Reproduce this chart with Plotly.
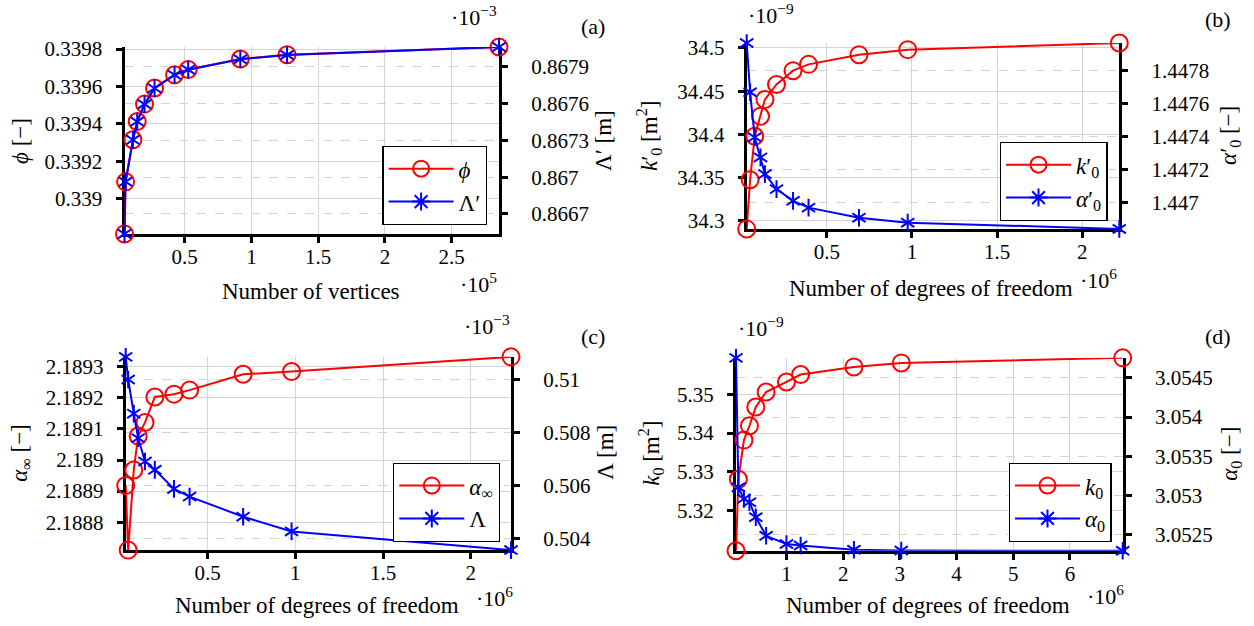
import plotly.graph_objects as go

W, H = 1254, 626
FONT = "Liberation Serif, Times New Roman, serif"
RED = "#ff0000"
BLUE = "#0000ff"

# ---------------- data (values as displayed on the axes) ----------------
# (a) number of vertices (x 10^5)
verts_a = [0.05, 0.058, 0.113, 0.145, 0.2, 0.275, 0.425, 0.527, 0.917, 1.267, 2.854]
phi_a = [0.338813, 0.339091, 0.339316, 0.339413, 0.339506, 0.339592,
         0.339663, 0.339691, 0.339747, 0.339770, 0.339811]
lamp_a = [0.866537, 0.866963, 0.867305, 0.867454, 0.867596, 0.867726,
          0.867835, 0.867878, 0.867963, 0.867998, 0.868063]  # x 10^-3 m

# (b) degrees of freedom (x 10^6)
dof_b = [0.03, 0.05, 0.077, 0.111, 0.137, 0.205, 0.302, 0.393, 0.689, 0.975, 2.217]
kp0_b = [34.2907, 34.3476, 34.3978, 34.421, 34.4404, 34.4578,
         34.4737, 34.481, 34.4922, 34.498, 34.5057]  # x 10^-9 m^2
ap0_b = [1.447966, 1.447668, 1.447395, 1.447273, 1.447172, 1.447081,
         1.44701, 1.446969, 1.446908, 1.446878, 1.44684]

# (c)
dof_c = [0.034, 0.048, 0.08, 0.105, 0.144, 0.2, 0.309, 0.398, 0.703, 0.979, 2.229]
ainf_c = [2.188918, 2.18871, 2.188968, 2.189077, 2.189121, 2.189203,
          2.189212, 2.189225, 2.189276, 2.189285, 2.189332]
lam_c = [0.510843, 0.509989, 0.508703, 0.507781, 0.5069, 0.506586,
         0.505867, 0.505577, 0.50482, 0.504265, 0.503561]  # x 10^-3 m

# (d)
dof_d = [0.11, 0.152, 0.25, 0.347, 0.459, 0.641, 1.0, 1.25, 2.19, 3.025, 6.93]
k0_d = [5.30966, 5.32811, 5.33819, 5.34189, 5.34672, 5.35059,
        5.35318, 5.35509, 5.35706, 5.35809, 5.35939]  # x 10^-9 m^2
a0_d = [3.054754, 3.053106, 3.052958, 3.052915, 3.052724, 3.052487,
        3.052382, 3.052364, 3.052310, 3.052300, 3.052296]

# tick values / labels
xt_a = [0.5, 1, 1.5, 2, 2.5]
xt_b = [0.5, 1, 1.5, 2]
xt_c = [0.5, 1, 1.5, 2]
xt_d = [1, 2, 3, 4, 5, 6]
yl_a = ["0.339", "0.3392", "0.3394", "0.3396", "0.3398"]
yr_a = ["0.8667", "0.867", "0.8673", "0.8676", "0.8679"]
yl_b = ["34.3", "34.35", "34.4", "34.45", "34.5"]
yr_b = ["1.447", "1.4472", "1.4474", "1.4476", "1.4478"]
yl_c = ["2.1888", "2.1889", "2.189", "2.1891", "2.1892", "2.1893"]
yr_c = ["0.504", "0.506", "0.508", "0.51"]
yl_d = ["5.32", "5.33", "5.34", "5.35"]
yr_d = ["3.0525", "3.053", "3.0535", "3.054", "3.0545"]


def px(x):
    return x / W


def py(y):
    ys = (y - 9.0) / 0.978
    return 1 - ys / H


fig = go.Figure()
layout = {}
annotations = []

axis_common = dict(
    showline=True, linecolor="black", linewidth=3,
    ticks="outside", ticklen=6, tickwidth=3, tickcolor="black",
    tickfont=dict(family=FONT, size=21, color="black"),
    zeroline=False, gridcolor="#d4d4d4", gridwidth=1.2,
    layer="below traces",
)


def fmt(v):
    return ("%g" % v)


def panel(i, x, yl, yr, box, xt, ylt, yrt, names, leg, ytitles):
    xid = "x" if i == 1 else f"x{i}"
    nl, nr = 2 * i - 1, 2 * i
    ylid = "y" if nl == 1 else f"y{nl}"
    yrid = f"y{nr}"
    x0, x1, y0, y1 = box
    xdom = [px(x0), px(x1)]
    ydom = [py(y1), py(y0)]
    layout["xaxis" if i == 1 else f"xaxis{i}"] = dict(
        axis_common, domain=xdom, anchor=ylid, range=[min(x), max(x)],
        tickvals=xt, ticktext=[fmt(v) for v in xt], showgrid=True,
        ticklabelstandoff=-4)
    layout["yaxis" if nl == 1 else f"yaxis{nl}"] = dict(
        axis_common, domain=ydom, anchor=xid, range=[min(yl), max(yl)],
        tickvals=[float(t) for t in ylt], ticktext=ylt, showgrid=True,
        ticklabelstandoff=9)
    layout[f"yaxis{nr}"] = dict(
        axis_common, domain=ydom, anchor=xid, overlaying=ylid, side="right",
        range=[min(yr), max(yr)], tickvals=[float(t) for t in yrt], ticktext=yrt,
        showgrid=True, griddash="dash", ticklabelstandoff=19)
    legid = "legend" if i == 1 else f"legend{i}"
    # red series with open circles
    fig.add_trace(go.Scatter(
        x=x, y=yl, xaxis=xid, yaxis=ylid, name=names[0], legend=legid,
        mode="lines+markers", cliponaxis=False,
        line=dict(color=RED, width=2),
        marker=dict(symbol="circle-open", size=17, color=RED,
                    line=dict(color=RED, width=2))))
    # blue series with six-armed asterisks (two overlaid three-armed marks)
    fig.add_trace(go.Scatter(
        x=x, y=yr, xaxis=xid, yaxis=yrid, showlegend=False,
        mode="lines+markers", cliponaxis=False,
        line=dict(color=BLUE, width=2),
        marker=dict(symbol="y-up-open", size=11, color=BLUE,
                    line=dict(color=BLUE, width=2))))
    fig.add_trace(go.Scatter(
        x=x, y=yr, xaxis=xid, yaxis=yrid, showlegend=False,
        mode="markers", cliponaxis=False,
        marker=dict(symbol="y-down-open", size=11, color=BLUE,
                    line=dict(color=BLUE, width=2))))
    # legend entry for the blue series
    fig.add_trace(go.Scatter(
        x=[None], y=[None], xaxis=xid, yaxis=yrid, name=names[1], legend=legid,
        mode="lines+markers",
        line=dict(color=BLUE, width=2),
        marker=dict(symbol="asterisk-open", size=15, color=BLUE,
                    line=dict(color=BLUE, width=2))))
    layout[legid] = dict(
        x=px(leg[0]), y=py(leg[1]), xanchor="right", yanchor="bottom",
        xref="paper", yref="paper",
        bgcolor="white", bordercolor="black", borderwidth=1.3,
        font=dict(family=FONT, size=23, color="black"),
        itemwidth=65, tracegroupgap=0)
    # axis titles
    for (tx, ty, txt, ang) in ytitles:
        annotations.append(dict(
            x=px(tx), y=py(ty), xref="paper", yref="paper", text=txt,
            textangle=ang, showarrow=False, xanchor="center", yanchor="middle",
            font=dict(family=FONT, size=23, color="black")))


panel(1, verts_a, phi_a, lamp_a, (124.5, 499, 46, 233), xt_a, yl_a, yr_a,
      ["<i>ϕ</i>", "Λ′"], (487.3, 224),
      [(21, 140, "<i>ϕ</i> [−]", -90), (604, 140, "Λ′ [m]", -90),
       (311, 291, "Number of vertices", 0)])
panel(2, dof_b, kp0_b, ap0_b, (746.7, 1119.3, 42, 228), xt_b, yl_b, yr_b,
      ["<i>k</i>′<sub>0</sub>", "<i>α</i>′<sub>0</sub>"], (1107.7, 220),
      [(649, 135, "<i>k</i>′<sub>0</sub> [m<sup>2</sup>]", -90),
       (1230, 135, "<i>α</i>′<sub>0</sub> [−]", -90),
       (931, 288, "Number of degrees of freedom", 0)])
panel(3, dof_c, ainf_c, lam_c, (125.7, 511, 356, 549.3), xt_c, yl_c, yr_c,
      ["<i>α</i><sub>∞</sub>", "Λ"], (500, 541),
      [(21, 452, "<i>α</i><sub>∞</sub> [−]", -90), (606, 452, "Λ [m]", -90),
       (317, 605, "Number of degrees of freedom", 0)])
panel(4, dof_d, k0_d, a0_d, (736, 1122.7, 357, 550), xt_d, yl_d, yr_d,
      ["<i>k</i><sub>0</sub>", "<i>α</i><sub>0</sub>"], (1111.7, 541),
      [(651, 453, "<i>k</i><sub>0</sub> [m<sup>2</sup>]", -90),
       (1231, 453, "<i>α</i><sub>0</sub> [−]", -90),
       (928, 605, "Number of degrees of freedom", 0)])

# exponent labels and panel letters
extras = [
    (474, 15, "·10<sup>−3</sup>"), (479, 282, "·10<sup>5</sup>"), (593, 26, "(a)"),
    (771, 13, "·10<sup>−9</sup>"), (1098, 278, "·10<sup>6</sup>"), (1218, 19, "(b)"),
    (487, 324, "·10<sup>−3</sup>"), (494, 596, "·10<sup>6</sup>"), (593, 336, "(c)"),
    (761, 326, "·10<sup>−9</sup>"), (1105, 594, "·10<sup>6</sup>"), (1218, 336, "(d)"),
]
for (tx, ty, txt) in extras:
    annotations.append(dict(
        x=px(tx), y=py(ty), xref="paper", yref="paper", text=txt,
        showarrow=False, xanchor="center", yanchor="middle",
        font=dict(family=FONT, size=22, color="black")))

fig.update_layout(
    width=W, height=H, autosize=False,
    margin=dict(l=0, r=0, t=0, b=0),
    paper_bgcolor="white", plot_bgcolor="white",
    font=dict(family=FONT, color="black"),
    annotations=annotations,
    **layout,
)

fig.write_html("out.html")
